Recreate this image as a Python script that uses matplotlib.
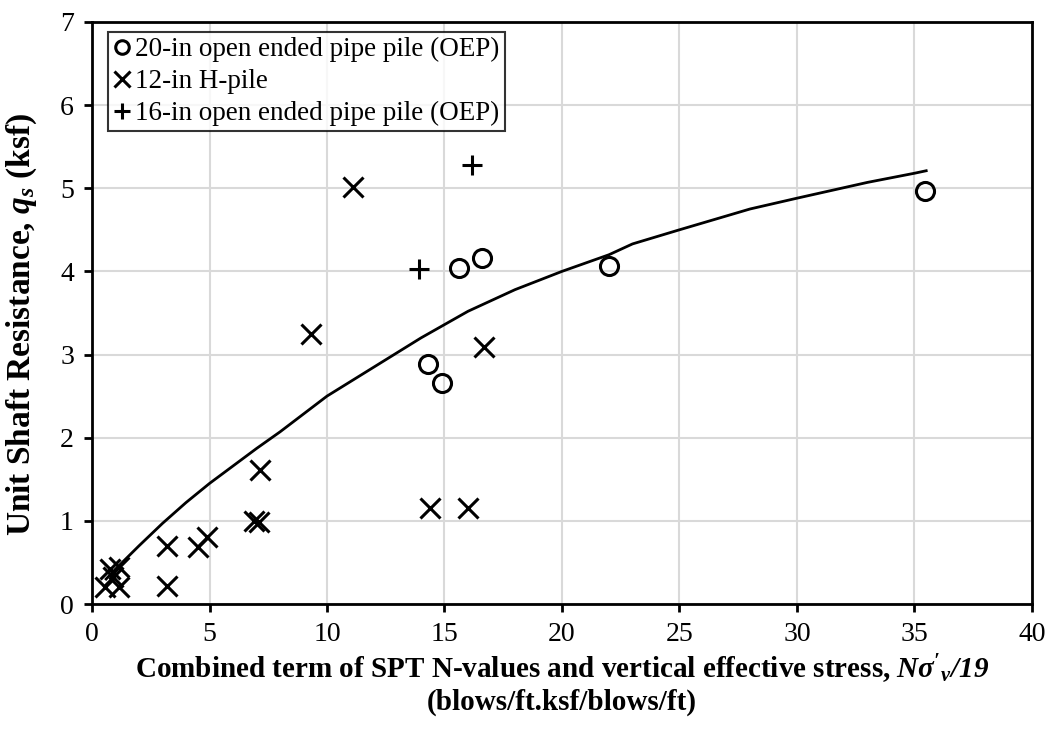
import matplotlib
matplotlib.use("Agg")
import matplotlib.pyplot as plt

plt.rcParams['font.family'] = ['Liberation Serif', 'DejaVu Serif']
plt.rcParams['mathtext.fontset'] = 'custom'
plt.rcParams['mathtext.rm'] = 'Liberation Serif'
plt.rcParams['mathtext.it'] = 'Liberation Serif:italic'
plt.rcParams['mathtext.bf'] = 'Liberation Serif:bold'
plt.rcParams['mathtext.bfit'] = 'Liberation Serif:italic:bold'

# 20-in open ended pipe pile (OEP)
oep20_x = [15.6, 16.6, 14.3, 14.9, 22.0, 35.45]
oep20_y = [4.04, 4.16, 2.89, 2.66, 4.07, 4.97]

# 12-in H-pile
hp_x = [11.1, 9.3, 16.7, 14.4, 16.0, 7.15, 6.9, 7.1, 4.9, 4.5, 3.2, 3.2,
        0.55, 0.75, 1.15, 1.15, 0.9]
hp_y = [5.02, 3.25, 3.09, 1.16, 1.16, 1.61, 1.0, 0.99, 0.8, 0.68, 0.70, 0.22,
        0.2, 0.42, 0.44, 0.21, 0.33]

# 16-in open ended pipe pile (OEP)
oep16_x = [13.9, 16.15]
oep16_y = [4.03, 5.28]

# fitted trend curve
fit_x = [0.6, 1, 2, 3, 4, 5, 6, 7, 8, 10, 12, 14, 15, 16, 18, 20, 22, 23,
         25, 28, 30, 33, 35, 35.5]
fit_y = [0.3, 0.42, 0.7, 0.97, 1.22, 1.45, 1.66, 1.87, 2.07, 2.5, 2.85,
         3.2, 3.36, 3.52, 3.78, 4.0, 4.2, 4.33, 4.5, 4.75, 4.88, 5.07,
         5.18, 5.21]

fig = plt.figure(figsize=(10.53, 7.3), dpi=100)
ax = fig.add_axes([0.0874, 0.1726, 0.8926, 0.7974])

ax.plot(fit_x, fit_y, color='black', linewidth=2, zorder=2)
ax.plot(oep20_x, oep20_y, linestyle='none', marker='o', markersize=13,
        markerfacecolor='none', markeredgecolor='black', markeredgewidth=2.2,
        label='20-in open ended pipe pile (OEP)', zorder=3)
ax.plot(hp_x, hp_y, linestyle='none', marker='x', markersize=15,
        color='black', markeredgewidth=2.2, label='12-in H-pile', zorder=3)
ax.plot(oep16_x, oep16_y, linestyle='none', marker='+', markersize=15,
        color='black', markeredgewidth=2.2,
        label='16-in open ended pipe pile (OEP)', zorder=3)

ax.set_xlim(0, 40)
ax.set_ylim(0, 7)
ax.set_xticks(range(0, 41, 5))
ax.set_yticks(range(0, 8))
ax.grid(True, color='#d9d9d9', linewidth=1.5)
ax.set_axisbelow(True)
for s in ax.spines.values():
    s.set_linewidth(2)
    s.set_color('black')
ax.tick_params(direction='out', length=6, width=2, labelsize=20, pad=7)

ax.set_xlabel("Combined term of SPT N-values and vertical effective stress, "
              r"$\mathbfit{N\sigma'_v/19}$" "\n(blows/ft.ksf/blows/ft)",
              fontsize=21, fontweight='bold', labelpad=4, linespacing=1.15)
ax.set_ylabel(r"Unit Shaft Resistance, $\mathbfit{q_s}$ (ksf)",
              fontsize=24, fontweight='bold')
ax.yaxis.set_label_coords(-0.056, 0.48)

leg = ax.legend(loc='upper left', fontsize=19.5, frameon=True, fancybox=False,
                edgecolor='black', handlelength=0.6, handletextpad=0.2,
                markerscale=0.75, borderpad=0.2, labelspacing=0.25,
                borderaxespad=0, bbox_to_anchor=(0.017, 0.983))
leg.get_frame().set_linewidth(1.5)

fig.savefig("out.png", dpi=100)
